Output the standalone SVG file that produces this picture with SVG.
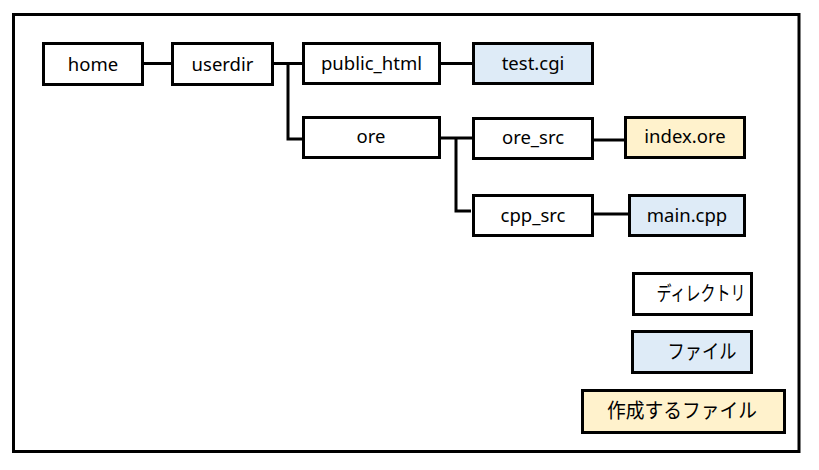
<svg xmlns="http://www.w3.org/2000/svg" width="819" height="470" viewBox="0 0 819 470">
<style>
.box{stroke:#000;stroke-width:3;fill:#fff}
.file{fill:#deebf7}
.new{fill:#fff2cc}
.t{font-family:"Noto Sans","Noto Sans CJK JP",sans-serif;font-size:18.5px;text-anchor:middle;dominant-baseline:central;fill:#000}
.j{font-size:20px}
.c{stroke:#000;stroke-width:3;fill:none}
</style>
<rect x="0" y="0" width="819" height="470" fill="#fff"/>
<rect x="13.5" y="14.5" width="785.5" height="437" fill="none" stroke="#000" stroke-width="3"/>
<g id="connectors">
<path class="c" d="M143 63.5H172"/>
<path class="c" d="M273 63.5H303M288 63.5V139H303"/>
<path class="c" d="M440 63.5H473"/>
<path class="c" d="M441 138H473M456 138V211H471"/>
<path class="c" d="M593 140H625"/>
<path class="c" d="M593 214H629"/>
</g>
<g id="home"><rect class="box" x="43.5" y="43.5" width="99" height="41"/><text class="t" x="93" y="63">home</text></g>
<g id="userdir"><rect class="box" x="172.5" y="43.5" width="100" height="41"/><text class="t" x="222.5" y="63">userdir</text></g>
<g id="public_html"><rect class="box" x="303.5" y="43.5" width="136" height="40"/><text class="t" x="371.5" y="62">public_html</text></g>
<g id="test_cgi"><rect class="box file" x="473.5" y="43.5" width="119" height="40"/><text class="t" x="533" y="62">test.cgi</text></g>
<g id="ore"><rect class="box" x="303.5" y="117.5" width="136" height="40"/><text class="t" x="371" y="135">ore</text></g>
<g id="ore_src"><rect class="box" x="473.5" y="118.5" width="119" height="40"/><text class="t" x="533" y="136">ore_src</text></g>
<g id="index_ore"><rect class="box new" x="625.5" y="117.5" width="119" height="40"/><text class="t" x="685" y="135">index.ore</text></g>
<g id="cpp_src"><rect class="box" x="473.5" y="195.5" width="119" height="40"/><text class="t" x="533" y="214">cpp_src</text></g>
<g id="main_cpp"><rect class="box file" x="629.5" y="195.5" width="115" height="40"/><text class="t" x="687" y="214">main.cpp</text></g>
<g id="legend_dir"><rect class="box" x="633.5" y="273.5" width="118" height="41"/><text class="t j" x="701" y="293" textLength="89" lengthAdjust="spacingAndGlyphs">ディレクトリ</text></g>
<g id="legend_file"><rect class="box file" x="632.5" y="331.5" width="119" height="41"/><text class="t j" x="702" y="351" textLength="69" lengthAdjust="spacingAndGlyphs">ファイル</text></g>
<g id="legend_new"><rect class="box new" x="582.5" y="390.5" width="202" height="42"/><text class="t j" x="682" y="410" textLength="150" lengthAdjust="spacingAndGlyphs">作成するファイル</text></g>
</svg>
